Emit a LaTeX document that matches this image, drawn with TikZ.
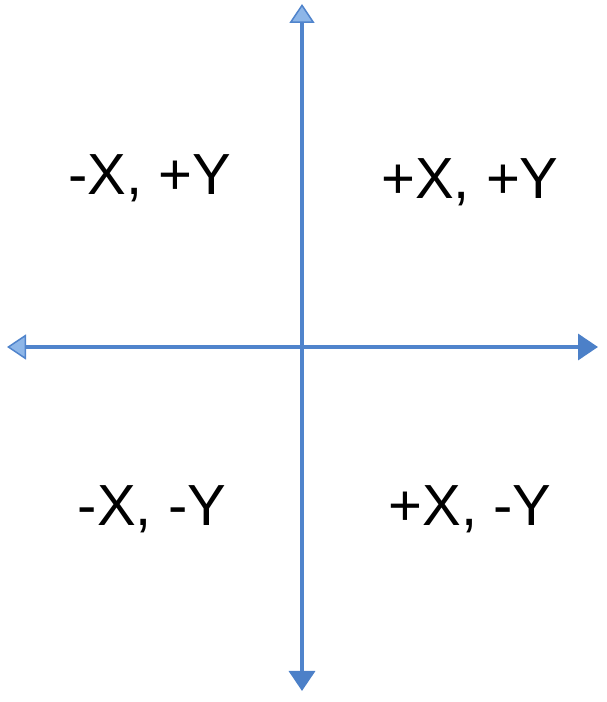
\documentclass[tikz,border=0pt]{standalone}
\usepackage{fontspec}
\setmainfont{Liberation Sans}
\usetikzlibrary{arrows.meta,positioning}
\definecolor{axisclr}{RGB}{80,132,204}
\definecolor{axislt}{RGB}{141,182,232}
\definecolor{tipdark}{RGB}{76,128,200}
\definecolor{lblclr}{RGB}{0,0,0}
\tikzset{
  axisline/.style={line width=3.5pt,color=axisclr},
  quadlbl/.style={font=\fontsize{58}{66}\selectfont,text=lblclr,inner sep=0pt},
}

\begin{document}
\begin{tikzpicture}[x=1pt,y=1pt]
  \useasboundingbox (0,0) rectangle (606,702);
  % axis end points
  \coordinate (ytop) at (302,698);
  \coordinate (ybot) at (302,11);
  \coordinate (xlft) at (7,355);
  \coordinate (xrgt) at (598,355);
  % axes
  \draw[axisline,{Triangle[length=20pt,width=26pt,fill=tipdark,color=tipdark]}-{Triangle[length=19pt,width=25pt,fill=axislt,color=axisclr,line width=1.5pt]}] (ybot) -- (ytop);
  \draw[axisline,{Triangle[length=19pt,width=25pt,fill=axislt,color=axisclr,line width=1.5pt]}-{Triangle[length=20pt,width=26pt,fill=tipdark,color=tipdark]}] (xlft) -- (xrgt);
  % quadrant labels
  \node[quadlbl] (q2) at (150,524) {-X, +Y};
  \node[quadlbl] (q1) at (470,520) {+X, +Y};
  \node[quadlbl] (q3) at (152,193) {-X, -Y};
  \node[quadlbl] (q4) at (470,193) {+X, -Y};
\end{tikzpicture}
\end{document}
